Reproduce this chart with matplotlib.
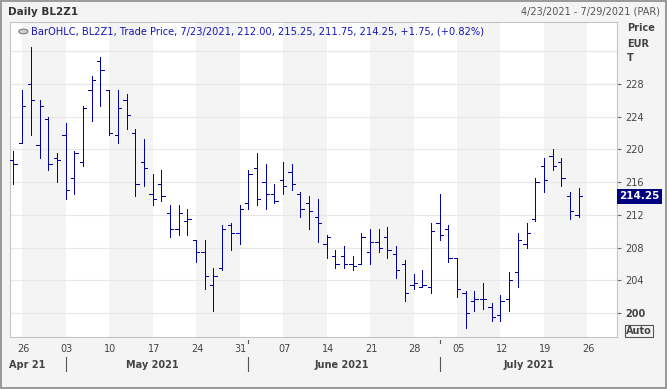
import matplotlib
matplotlib.use('Agg')
import matplotlib.pyplot as plt
import matplotlib.transforms as mtransforms
from matplotlib.patches import Rectangle, Circle
import numpy as np
import pandas as pd

# daily OHLC, 23 Apr 2021 .. 23 Jul 2021 (trading days)
dates = pd.bdate_range('2021-04-23', '2021-07-23')
opens = [218.75, 220.75, 228.0, 220.5, 223.75, 219.0, 221.75, 216.5, 218.5, 227.25,
         230.75, 227.25, 221.75, 226.0, 222.0, 218.5, 214.5, 215.75, 212.25, 210.25,
         211.25, 209.0, 207.5, 203.5, 205.5, 210.75, 209.75, 213.5, 217.75, 216.0,
         214.5, 216.25, 217.25, 214.5, 213.5, 211.75, 208.5, 207.0, 207.0, 206.0,
         206.0, 207.5, 208.75, 209.25, 207.25, 206.0, 203.5, 203.25, 203.25, 211.0,
         210.25, 206.75, 202.5, 201.5, 201.75, 200.75, 199.75, 201.75, 205.0, 208.5,
         211.5, 218.0, 219.25, 218.5, 214.25, 212.0]
highs = [219.75, 227.25, 232.5, 226.0, 224.0, 219.5, 223.25, 219.75, 225.25, 229.0,
         231.25, 227.25, 227.25, 226.75, 222.5, 221.25, 217.0, 217.5, 213.25, 213.25,
         212.75, 209.0, 209.0, 205.5, 210.75, 211.0, 213.25, 217.5, 219.5, 218.25,
         215.75, 218.5, 218.25, 214.75, 214.25, 214.0, 209.5, 207.75, 208.25, 207.0,
         209.75, 210.25, 210.25, 210.5, 208.25, 206.5, 204.75, 205.25, 211.0, 214.5,
         210.75, 206.75, 202.75, 202.75, 203.75, 201.25, 202.25, 205.0, 209.75, 211.0,
         216.5, 219.0, 220.0, 219.0, 214.75, 215.25]
lows = [215.75, 220.75, 221.75, 219.0, 217.5, 216.0, 214.0, 214.5, 218.0, 223.5,
        225.25, 221.75, 220.75, 222.5, 214.25, 215.5, 213.25, 213.75, 209.25, 209.5,
        209.5, 206.25, 203.0, 200.25, 205.25, 207.75, 208.5, 212.75, 213.25, 212.75,
        213.5, 214.5, 215.0, 211.75, 210.25, 208.75, 206.75, 205.5, 205.5, 205.25,
        206.0, 206.0, 207.5, 206.75, 204.25, 201.5, 203.0, 203.25, 202.5, 209.0,
        206.25, 202.0, 198.25, 200.25, 200.5, 199.0, 199.0, 200.25, 203.25, 208.0,
        211.25, 214.75, 217.5, 215.5, 211.5, 211.75]
closes = [218.25, 225.25, 226.0, 225.25, 218.25, 218.75, 215.0, 219.5, 225.0, 228.5,
          229.75, 222.0, 225.0, 224.25, 215.75, 217.75, 214.0, 214.25, 210.25, 212.25,
          211.5, 207.5, 204.5, 204.5, 210.25, 209.75, 212.75, 217.0, 214.0, 214.5,
          213.75, 215.5, 215.75, 212.75, 212.5, 211.0, 209.25, 206.0, 206.0, 205.75,
          209.25, 208.75, 208.0, 207.75, 205.25, 202.5, 203.75, 203.5, 210.0, 209.5,
          206.75, 203.0, 200.0, 201.75, 201.75, 199.5, 201.5, 204.0, 209.0, 209.75,
          216.0, 216.25, 218.0, 216.5, 212.5, 214.25]

price_ticks = [200, 204, 208, 212, 216, 220, 224, 228]
grid_levels = [200, 204, 208, 212, 216, 220, 224, 228, 232]
months = ['Apr 21', 'May 2021', 'June 2021', 'July 2021']

bar_color = '#0000a8'
x = np.arange(len(dates))

fig = plt.figure(figsize=(6.67, 3.89), dpi=100)
fig.patch.set_facecolor('#f4f4f4')
plt.rcParams['font.family'] = ['DejaVu Sans']

ax = fig.add_axes([10 / 667, 52 / 389, 607 / 667, 315 / 389])
ax.set_facecolor('white')
ax.set_xlim(-0.4, 69.4)
ax.set_ylim(197.1, 235.55)

# weekly shading, every other week starting on a Monday
mondays = [i for i, d in enumerate(dates) if d.weekday() == 0]
mondays.append(mondays[-1] + 5)
for k, m in enumerate(mondays):
    if k % 2 == 0:
        ax.axvspan(m, m + 5, color='#f4f4f4', lw=0, zorder=0)

for g in grid_levels:
    ax.axhline(g, color='#e8e8e8', lw=0.9, zorder=1)

# OHLC bars
lw_bar = 0.5
ax.vlines(x, lows, highs, color=bar_color, lw=lw_bar, zorder=3, antialiased=False)
ax.hlines(opens, x - 0.38, x, color=bar_color, lw=lw_bar, zorder=3, antialiased=False)
ax.hlines(closes, x, x + 0.38, color=bar_color, lw=lw_bar, zorder=3, antialiased=False)

for s in ax.spines.values():
    s.set_color('#c4c4c4')
    s.set_linewidth(0.8)

# right price axis
ax.yaxis.tick_right()
ax.set_yticks(price_ticks)
ax.set_yticklabels([str(p) for p in price_ticks])
ax.tick_params(axis='y', length=3, width=0.8, color='#666666', pad=3,
               labelsize=7, labelcolor='#444444')
ax.get_yticklabels()[0].set_fontweight('bold')

# bottom date axis
day_labels = [dates[m].strftime('%d') if m < len(dates) else '26' for m in mondays]
ax.set_xticks([m + 0.15 for m in mondays])
ax.set_xticklabels(day_labels)
ax.tick_params(axis='x', length=0, pad=5, labelsize=7, labelcolor='#444444')

trans = mtransforms.blended_transform_factory(ax.transData, ax.transAxes)
month_pos = [1.6, 16.0, 37.8, 59.3]
for pos, name in zip(month_pos, months):
    ax.text(pos, -0.09, name, transform=trans, ha='center', va='center',
            fontsize=7, fontweight='bold', color='#444444')
first_days = [i for i in range(1, len(dates)) if dates[i].month != dates[i - 1].month]
for f in first_days:
    ax.plot([f, f], [-0.062, -0.108], transform=trans, color='#555555', lw=0.8,
            clip_on=False)
    if dates[f].weekday() != 0:
        ax.plot([f, f], [-0.01, -0.02], transform=trans, color='#555555', lw=0.8,
                clip_on=False)

# last price tag
ax.text(1.004, closes[-1], '%.2f' % closes[-1], transform=ax.get_yaxis_transform(),
        ha='left', va='center', fontsize=7.5, fontweight='bold', color='white',
        bbox=dict(boxstyle='square,pad=0.2', fc='#000080', ec='none'), zorder=5)

# legend line inside the plot
chg = closes[-1] - closes[-2]
legend = 'BarOHLC, BL2Z1, Trade Price, %s, %.2f, %.2f, %.2f, %.2f, %+.2f, (%+.2f%%)' % (
    dates[-1].strftime('%-m/%d/%Y'), opens[-1], highs[-1], lows[-1], closes[-1],
    chg, chg / closes[-2] * 100)
ax.text(0.035, 0.97, legend, transform=ax.transAxes, ha='left', va='center',
        fontsize=7.1, color='#1616b8', zorder=6)
ax.add_patch(Circle((0.022, 0.97), 0.0075, transform=ax.transAxes,
                    fc='#d0d0d0', ec='#707070', lw=0.7, zorder=6))

# header
fig.text(8 / 667, 1 - 12 / 389, 'Daily BL2Z1', ha='left', va='center',
         fontsize=7.5, fontweight='bold', color='#333333')
fig.text(660 / 667, 1 - 12 / 389, '4/23/2021 - 7/29/2021 (PAR)', ha='right',
         va='center', fontsize=7, color='#555555')
for txt, yy in zip(['Price', 'EUR', 'T'], [28, 44, 58]):
    fig.text(627 / 667, 1 - yy / 389, txt, ha='left', va='center',
             fontsize=7, fontweight='bold', color='#444444')
fig.text(626 / 667, 1 - 331 / 389, 'Auto', ha='left', va='center', fontsize=7,
         fontweight='bold', color='#444444',
         bbox=dict(boxstyle='square,pad=0.12', fc='#f4f4f4', ec='#555555', lw=0.8))

fig.add_artist(Rectangle((0.001, 0.003), 0.998, 0.995, transform=fig.transFigure,
                         fill=False, ec='#8a8a8a', lw=1.2))

fig.savefig('out.png', dpi=100, facecolor=fig.get_facecolor())
